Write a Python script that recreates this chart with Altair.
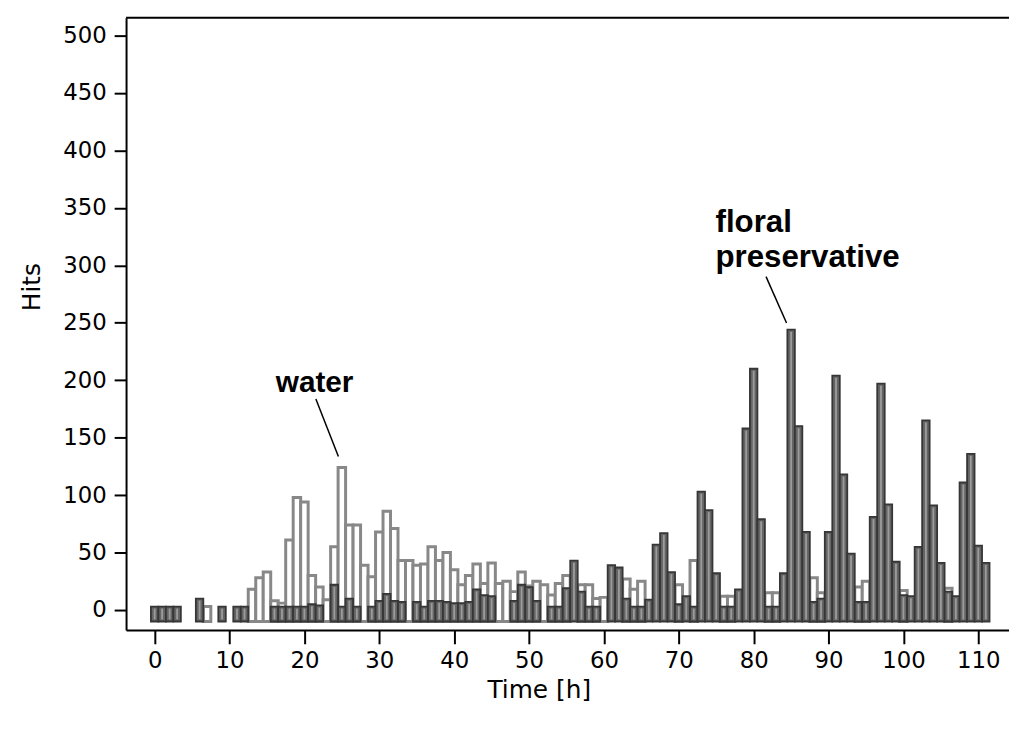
import altair as alt
import pandas as pd

# ---- data (hits per hour) ----
hours = list(range(0, 112))

water = [None, None, None, None, None, None, None, 3, None, None,
         None, None, None, 18, 28, 33, 8, 6, 61, 98,
         94, 30, 20, 9, 55, 124, 74, 74, 39, 29,
         68, 86, 71, 43, 43, 39, 40, 55, 43, 50,
         35, 22, 30, 40, 23, 41, 23, 25, 16, 33,
         21, 25, 22, 13, 23, 30, None, 22, 22, 10,
         11, None, None, 27, 18, 25, None, None, None, None,
         22, None, 43, None, None, None, 12, 12, None, None,
         None, None, 15, 15, None, None, None, None, 28, 15,
         None, None, None, None, 20, 25, None, None, None, None,
         17, None, None, None, None, None, 19, None, None, None,
         None, None]

floral = [3, 3, 3, 3, None, None, 10, None, None, 3,
          None, 3, 3, None, None, None, 3, 3, 3, 3,
          3, 5, 4, None, 22, 3, 10, 3, None, 3,
          8, 14, 8, 7, None, 7, 3, 8, 8, 7,
          6, 6, 7, 18, 13, 12, None, None, 8, 22,
          20, 8, None, 3, 3, 19, 43, 16, 3, 3,
          None, 39, 37, 10, 3, 3, 9, 57, 67, 33,
          5, 12, 3, 103, 87, 32, 3, 3, 18, 158,
          210, 79, 3, 3, 32, 244, 160, 68, 7, 10,
          68, 204, 118, 49, 7, 7, 81, 197, 92, 42,
          13, 12, 55, 165, 91, 41, 16, 12, 111, 136,
          56, 41]

x_ticks = list(range(0, 111, 10))
y_ticks = list(range(0, 501, 50))

ann_text = ["water", "floral", "preservative"]
ann_hour = [21.36, 74.9, 74.9]
ann_hits = [190, 329, 299]

lead_h0 = [21.53, 81.65]
lead_h1 = [24.54, 84.39]
lead_v0 = [183.7, 290.2]
lead_v1 = [133.6, 249.8]

# ---- layout / style ----
W, H = 890, 617
BAR_BASE = -10
XDOM = [-3.82, 114.1]
YDOM = [-17.3, 515.5]
FONT = "Liberation Sans"
AXFONT = "DejaVu Sans"

df = pd.DataFrame({"hour": hours * 2,
                   "series": ["water"] * len(hours) + ["floral"] * len(hours),
                   "value": water + floral})

xs = alt.Scale(domain=XDOM, nice=False, zero=False)
ys = alt.Scale(domain=YDOM, nice=False, zero=False)

base = alt.Chart(df).transform_filter("isValid(datum.value)").transform_calculate(
    x0="datum.hour - 0.5", x1="datum.hour + 0.5", b=str(BAR_BASE))

x_enc = alt.X("x0:Q", scale=xs, axis=alt.Axis(
    values=x_ticks, title="Time [h]", tickSize=14,
    labelPadding=6,
    titleX=416, titleY=60, titleBaseline="middle", titleAlign="center"))
y_enc = alt.Y("value:Q", scale=ys, axis=alt.Axis(
    values=y_ticks, title="Hits", tickSize=12,
    labelPadding=8,
    titleX=-95, titleY=271, titleAngle=-90, titleBaseline="middle",
    titleAlign="center"))

light = base.transform_filter("datum.series == 'water'").mark_bar(
    fill="white", stroke="#888888", strokeWidth=3).encode(
    x=x_enc, x2="x1:Q", y=y_enc, y2="b:Q")

dark = base.transform_filter("datum.series == 'floral'").mark_bar(
    fill="#656565", stroke="#363636", strokeWidth=1.8).encode(
    x=alt.X("x0:Q", scale=xs), x2="x1:Q", y=alt.Y("value:Q", scale=ys), y2="b:Q")

stripe = base.transform_filter("datum.series == 'floral'").transform_calculate(
    s0="datum.hour - 0.12", s1="datum.hour + 0.12",
    t0="datum.b + 1.8", t1="datum.value - 1.8").mark_bar(
    fill="#9c9c9c").encode(
    x=alt.X("s0:Q", scale=xs), x2="s1:Q",
    y=alt.Y("t1:Q", scale=ys), y2="t0:Q")

ann_df = pd.DataFrame({"t": ann_text, "h": ann_hour, "v": ann_hits})
ann_w = alt.Chart(ann_df[ann_df.t == "water"]).mark_text(
    fontSize=30, fontWeight="bold", align="center", baseline="alphabetic",
    color="black").encode(x=alt.X("h:Q", scale=xs),
                          y=alt.Y("v:Q", scale=ys), text="t:N")
ann_f = alt.Chart(ann_df[ann_df.t != "water"]).mark_text(
    fontSize=31.5, fontWeight="bold", align="left", baseline="alphabetic",
    color="black").encode(x=alt.X("h:Q", scale=xs),
                          y=alt.Y("v:Q", scale=ys), text="t:N")

lead_df = pd.DataFrame({"h0": lead_h0, "h1": lead_h1, "v0": lead_v0, "v1": lead_v1})
leads = alt.Chart(lead_df).mark_rule(color="black", strokeWidth=1.5).encode(
    x=alt.X("h0:Q", scale=xs), x2="h1:Q",
    y=alt.Y("v0:Q", scale=ys), y2="v1:Q")

top = alt.Chart(pd.DataFrame({"a": [0]})).mark_rule(color="black", strokeWidth=2).encode(
    x=alt.value(0), x2=alt.value(W + 2), y=alt.value(0))

chart = alt.layer(light, dark, stripe, leads, ann_w, ann_f, top).properties(
    width=W, height=H,
    autosize=alt.AutoSizeParams(type="none"),
    padding={"left": 119, "top": 7, "right": 0, "bottom": 91},
).configure_view(stroke="transparent").configure_axis(
    labelFont=AXFONT, titleFont=AXFONT, labelFontSize=23, titleFontSize=25,
    titleFontWeight="normal", labelColor="black", titleColor="black",
    domainColor="black", tickColor="black", domainWidth=2, tickWidth=2,
    grid=False, labelFlush=False
).configure_text(font=FONT)

chart.save("out.html", embed_options={"renderer": "svg", "actions": False})
